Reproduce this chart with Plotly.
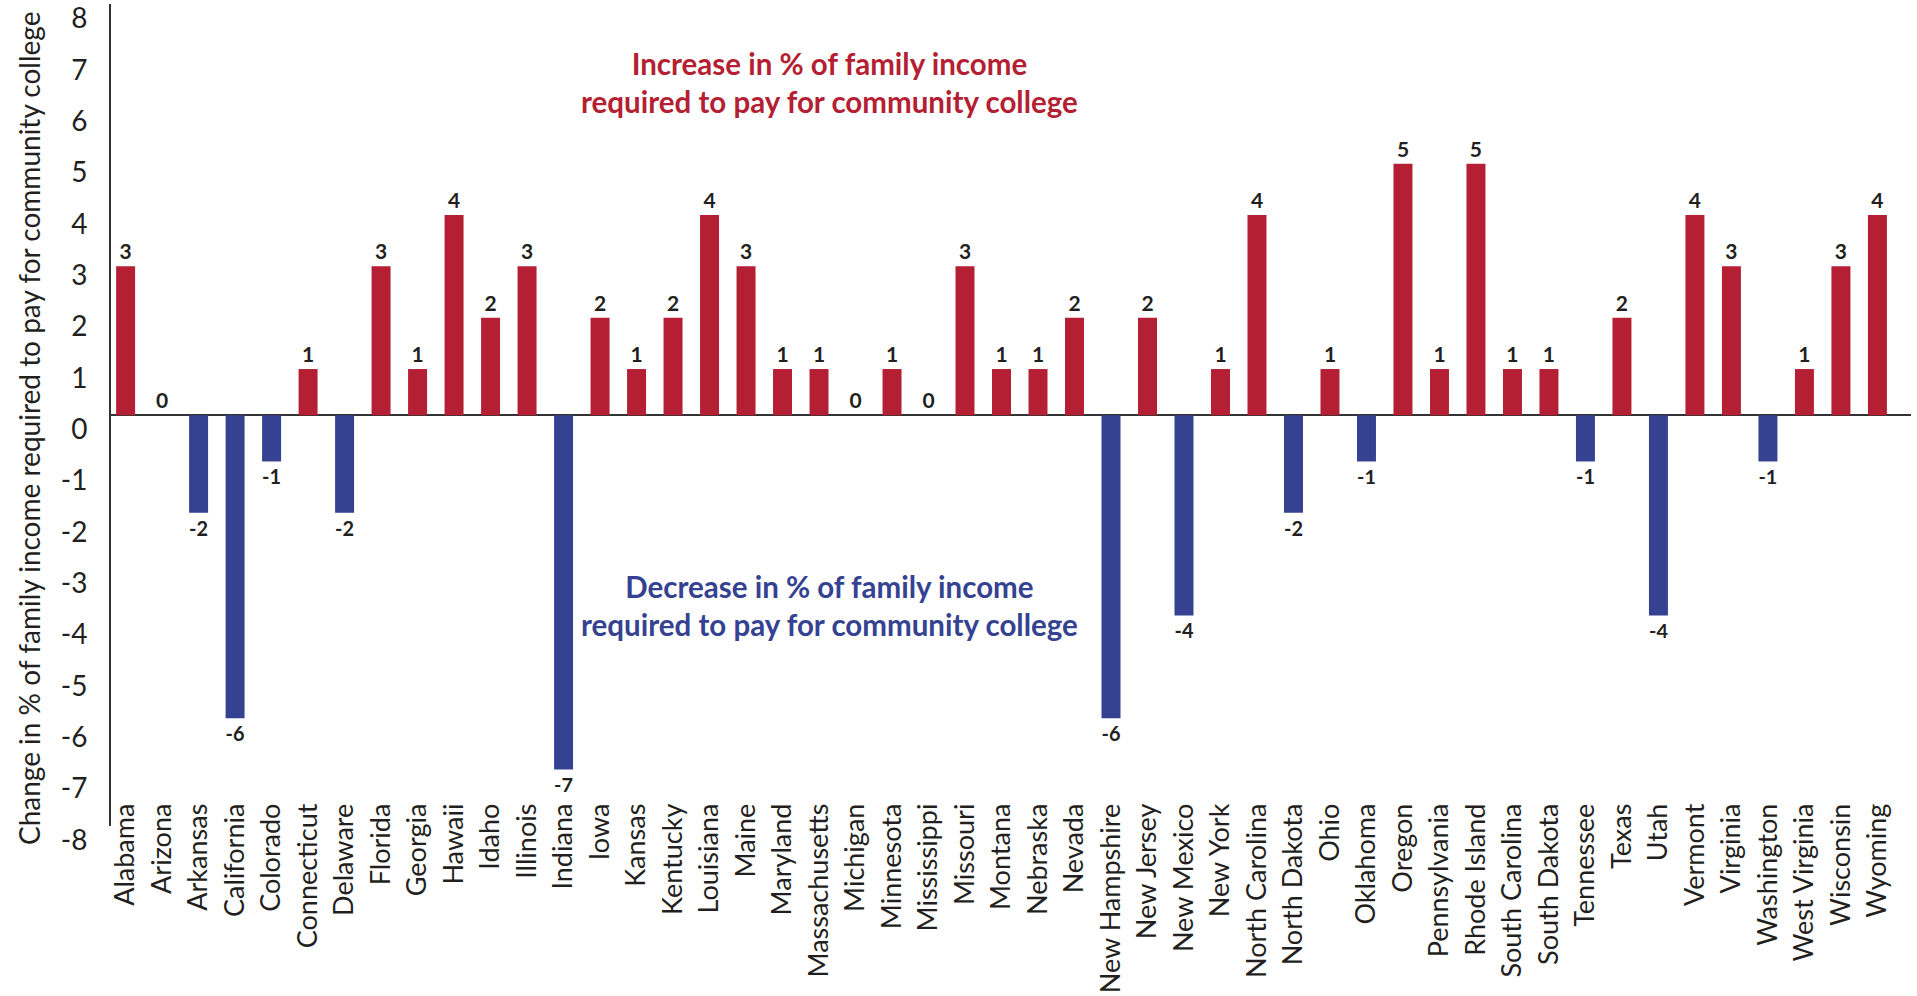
import plotly.graph_objects as go

STATES = [
    "Alabama", "Arizona", "Arkansas", "California", "Colorado", "Connecticut",
    "Delaware", "Florida", "Georgia", "Hawaii", "Idaho", "Illinois", "Indiana",
    "Iowa", "Kansas", "Kentucky", "Louisiana", "Maine", "Maryland",
    "Massachusetts", "Michigan", "Minnesota", "Mississippi", "Missouri",
    "Montana", "Nebraska", "Nevada", "New Hampshire", "New Jersey",
    "New Mexico", "New York", "North Carolina", "North Dakota", "Ohio",
    "Oklahoma", "Oregon", "Pennsylvania", "Rhode Island", "South Carolina",
    "South Dakota", "Tennessee", "Texas", "Utah", "Vermont", "Virginia",
    "Washington", "West Virginia", "Wisconsin", "Wyoming",
]

# bar heights as they sit on the axis
CHANGE = [
    2.9, 0, -1.9, -5.9, -0.9, 0.9, -1.9, 2.9, 0.9, 3.9, 1.9, 2.9, -6.9,
    1.9, 0.9, 1.9, 3.9, 2.9, 0.9, 0.9, 0, 0.9, 0, 2.9, 0.9, 0.9, 1.9,
    -5.9, 1.9, -3.9, 0.9, 3.9, -1.9, 0.9, -0.9, 4.9, 0.9, 4.9, 0.9, 0.9,
    -0.9, 1.9, -3.9, 3.9, 2.9, -0.9, 0.9, 2.9, 3.9,
]

# rounded values printed on the bars
LABELS = [
    3, 0, -2, -6, -1, 1, -2, 3, 1, 4, 2, 3, -7, 2, 1, 2, 4, 3, 1, 1, 0, 1,
    0, 3, 1, 1, 2, -6, 2, -4, 1, 4, -2, 1, -1, 5, 1, 5, 1, 1, -1, 2, -4, 4,
    3, -1, 1, 3, 4,
]

Y_TICKS = list(range(-8, 9))

RED = "#B41F33"
BLUE = "#344291"
INK = "#231F20"
FONT = "Lato, 'Noto Sans', sans-serif"

fig = go.Figure()
fig.add_trace(
    go.Bar(
        x=STATES,
        y=CHANGE,
        marker={"color": [RED if v >= 0 else BLUE for v in CHANGE], "line": {"width": 0}},
        text=[str(v) for v in LABELS],
        textposition="outside",
        textfont={"family": FONT, "size": 21, "color": INK, "weight": "bold"},
        cliponaxis=False,
        hoverinfo="x+text",
    )
)

fig.add_annotation(
    text="Increase in % of family income<br>required to pay for community college",
    xref="paper", yref="paper", x=0.399, y=0.905,
    xanchor="center", yanchor="middle",
    showarrow=False, align="center",
    font={"family": FONT, "size": 29.5, "color": RED, "weight": "bold"},
)
fig.add_annotation(
    text="Decrease in % of family income<br>required to pay for community college",
    xref="paper", yref="paper", x=0.399, y=0.268,
    xanchor="center", yanchor="middle",
    showarrow=False, align="center",
    font={"family": FONT, "size": 29.5, "color": BLUE, "weight": "bold"},
)
# y axis title, placed as in the original (slightly below the plot centre)
fig.add_annotation(
    text="Change in % of family income required to pay for community college",
    xref="paper", yref="paper", x=-0.0456, y=0.484,
    xanchor="center", yanchor="middle", textangle=-90,
    showarrow=False,
    font={"family": FONT, "size": 28, "color": INK},
)

fig.update_xaxes(
    type="category",
    range=[-0.4, 48.92],
    tickangle=-90,
    showline=False,
    showgrid=False,
    ticks="",
    anchor="free",
    position=0.035,
    automargin=False,
    tickfont={"family": FONT, "size": 27, "color": INK},
)
fig.update_yaxes(
    range=[-8, 8.01],
    tickvals=Y_TICKS,
    ticktext=[str(t) for t in Y_TICKS],
    ticklabelshift=14,
    ticklabelstandoff=16,
    ticklabeloverflow="allow",
    automargin=False,
    showgrid=False,
    showline=True,
    linecolor="#333333",
    linewidth=2,
    ticks="",
    zeroline=True,
    zerolinecolor="#333333",
    zerolinewidth=1.5,
    tickfont={"family": FONT, "size": 28, "color": INK},
)
fig.update_layout(
    width=1917,
    height=996,
    margin={"l": 111, "r": 6, "t": 4, "b": 170},
    bargap=0.48,
    showlegend=False,
    plot_bgcolor="white",
    paper_bgcolor="white",
)

fig.write_html(
    "out.html",
    config={"displayModeBar": False},
    post_script="document.body.style.margin = '0px';",
)
